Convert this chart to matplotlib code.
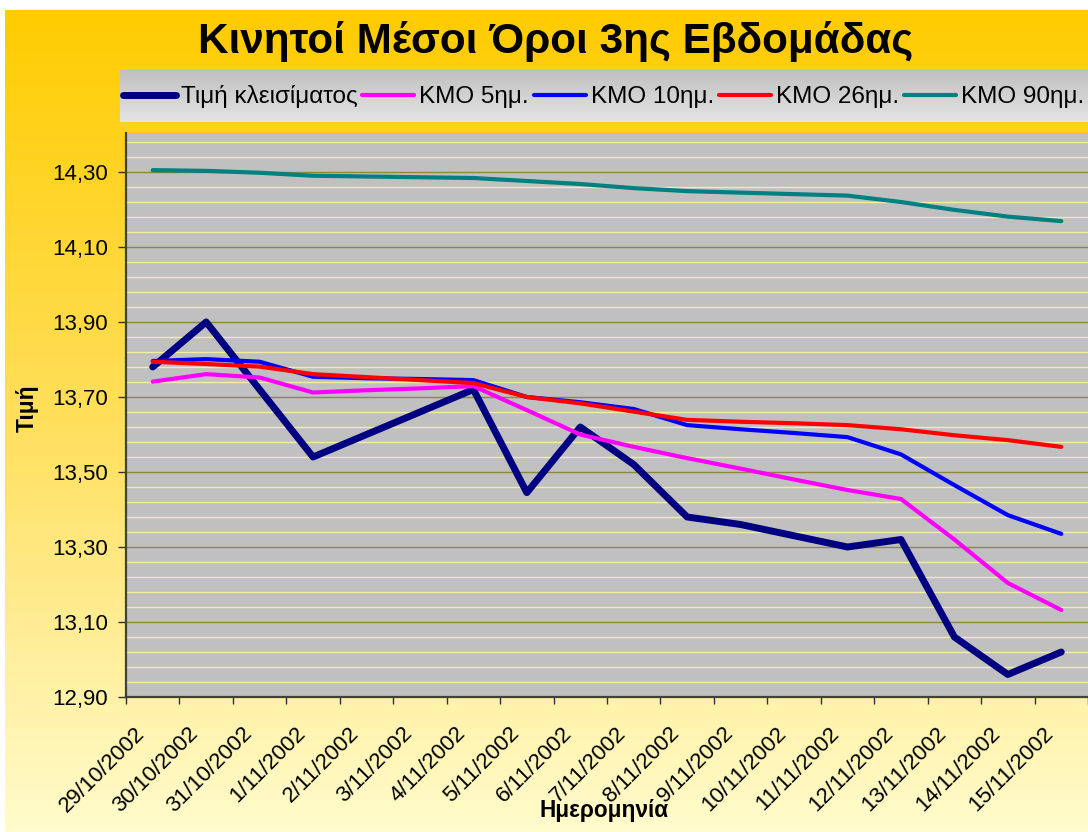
import numpy as np
import matplotlib
matplotlib.use('Agg')
import matplotlib.pyplot as plt
from matplotlib.colors import LinearSegmentedColormap
from matplotlib.ticker import FixedLocator, FuncFormatter, MultipleLocator
from matplotlib.transforms import ScaledTranslation

plt.rcParams['font.family'] = ['Liberation Sans', 'DejaVu Sans']

# data
dates = ['29/10/2002', '30/10/2002', '31/10/2002', '1/11/2002', '2/11/2002',
         '3/11/2002', '4/11/2002', '5/11/2002', '6/11/2002', '7/11/2002',
         '8/11/2002', '9/11/2002', '10/11/2002', '11/11/2002', '12/11/2002',
         '13/11/2002', '14/11/2002', '15/11/2002']
close = [13.78, 13.90, 13.72, 13.54, 13.60, 13.66, 13.72, 13.445, 13.62,
         13.52, 13.38, 13.36, 13.33, 13.30, 13.32, 13.06, 12.96, 13.02]
ma5 = [13.741, 13.761, 13.752, 13.712, 13.718, 13.723, 13.729, 13.665, 13.60,
       13.567, 13.537, 13.509, 13.48, 13.452, 13.428, 13.32, 13.204, 13.132]
ma10 = [13.796, 13.801, 13.794, 13.754, 13.75, 13.748, 13.745, 13.70, 13.686,
        13.668, 13.625, 13.614, 13.604, 13.593, 13.547, 13.465, 13.385, 13.335]
ma26 = [13.794, 13.788, 13.781, 13.761, 13.753, 13.745, 13.737, 13.70, 13.683,
        13.661, 13.639, 13.634, 13.63, 13.625, 13.614, 13.598, 13.585, 13.567]
ma90 = [14.305, 14.303, 14.298, 14.29, 14.288, 14.286, 14.284, 14.276, 14.268,
        14.257, 14.249, 14.245, 14.241, 14.237, 14.22, 14.199, 14.181, 14.169]

series = [(close, 'Τιμή κλεισίματος', '#000080', 5.0),
          (ma5, 'ΚΜΟ 5ημ.', '#FF00FF', 3.0),
          (ma10, 'ΚΜΟ 10ημ.', '#0000FF', 3.0),
          (ma26, 'ΚΜΟ 26ημ.', '#FF0000', 3.0),
          (ma90, 'ΚΜΟ 90ημ.', '#008080', 3.0)]

W, H = 1088, 832
fig = plt.figure(figsize=(W / 100, H / 100), dpi=100)
fig.patch.set_facecolor('white')

# yellow gradient background
bg = fig.add_axes([5 / W, 0, 1 - 5 / W, 1 - 10 / H])
bg.axis('off')
cm_bg = LinearSegmentedColormap.from_list('bg', ['#FFCC00', '#FFDF5C', '#FFFBCC'])
bg.imshow(np.linspace(0, 1, 256).reshape(-1, 1), cmap=cm_bg, aspect='auto',
          extent=[0, 1, 0, 1])

# grey gradient behind the legend
lbg = fig.add_axes([120 / W, 1 - 122 / H, (W - 120) / W, 52 / H])
lbg.axis('off')
cm_l = LinearSegmentedColormap.from_list('lg', ['#C0C0C0', '#E4E4E4'])
lbg.imshow(np.linspace(0, 1, 64).reshape(-1, 1), cmap=cm_l, aspect='auto',
           extent=[0, 1, 0, 1])

ax = fig.add_axes([126 / W, 1 - 697 / H, (W - 126) / W, (697 - 133) / H])
ax.set_facecolor('#C0C0C0')

x = np.arange(len(dates)) + 0.5
for vals, name, col, lw in series:
    ax.plot(x, vals, color=col, lw=lw, label=name, solid_capstyle='round',
            solid_joinstyle='round')

ax.set_xlim(0, len(dates))
ax.set_ylim(12.9, 14.404)

# y axis
ax.yaxis.set_major_locator(FixedLocator(np.arange(12.9, 14.31, 0.2)))
ax.yaxis.set_minor_locator(FixedLocator(np.arange(12.9, 14.41, 0.04)))
ax.yaxis.set_major_formatter(FuncFormatter(lambda v, p: f'{v:.2f}'.replace('.', ',')))
ax.grid(axis='y', which='minor', color='#F2F0A0', lw=1.0)
ax.grid(axis='y', which='major', color='#8C8A3A', lw=1.0)
ax.set_axisbelow(True)
ax.tick_params(axis='y', which='major', length=6, width=1, color='#303030',
               pad=7, labelsize=16)
ax.tick_params(axis='y', which='minor', length=0)

# x axis: marks at category borders, labels at centres
ax.xaxis.set_major_locator(FixedLocator(x))
ax.xaxis.set_minor_locator(MultipleLocator(1))
ax.set_xticklabels(dates, rotation=45, ha='right', va='center',
                   rotation_mode='anchor')
ax.tick_params(axis='x', which='major', length=0, pad=24, labelsize=16)
ax.tick_params(axis='x', which='minor', length=5, width=1, color='#303030')
off = ScaledTranslation(-11 / 100, 0, fig.dpi_scale_trans)
for lab in ax.get_xticklabels():
    lab.set_transform(lab.get_transform() + off)

for s in ['top', 'right']:
    ax.spines[s].set_visible(False)
for s in ['left', 'bottom']:
    ax.spines[s].set_color('#404040')
    ax.spines[s].set_linewidth(1.6)

fig.text(556 / W, 1 - 42 / H, 'Κινητοί Μέσοι Όροι 3ης Εβδομάδας',
         ha='center', va='center', fontsize=30.4, fontweight='bold')
fig.text(604 / W, 1 - 811 / H, 'Ημερομηνία', ha='center', va='center',
         fontsize=16.3, fontweight='bold')
fig.text(27 / W, 1 - 408 / H, 'Τιμή', ha='center', va='center', rotation=90,
         fontsize=16.3, fontweight='bold')

ax.legend(loc='center', bbox_to_anchor=((120 + W) / 2 / W, 1 - 97 / H),
          bbox_transform=fig.transFigure, ncol=5, frameon=False, fontsize=17.5,
          handlelength=2.15, handletextpad=0.2, columnspacing=0.2,
          borderpad=0, borderaxespad=0)

fig.savefig('out.png', dpi=100)
